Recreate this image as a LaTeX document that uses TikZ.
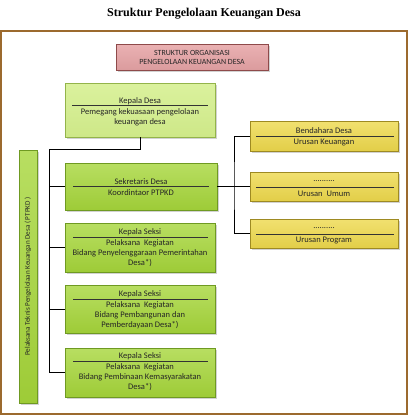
\documentclass[tikz,border=0pt]{standalone}
\usepackage{fontspec}
\setmainfont{Carlito}
\newfontfamily\titlefont{Liberation Serif}
\usetikzlibrary{shadows}
\definecolor{frameC}{HTML}{9C6A2E}
\definecolor{greenF}{HTML}{A6D63A}
\definecolor{greenD}{HTML}{6F9A22}
\definecolor{lgreenF}{HTML}{D4EF8C}
\definecolor{lgreenD}{HTML}{93B44A}
\definecolor{yelF}{HTML}{EED94C}
\definecolor{yelD}{HTML}{9E8A22}
\definecolor{pinkF}{HTML}{E6A3A5}
\definecolor{pinkD}{HTML}{8E4A4A}
\tikzset{
  box/.style={draw, line width=0.8pt, inner sep=0pt, drop shadow={shadow xshift=1.5pt, shadow yshift=-1.5pt, opacity=0.35}},
  gbox/.style={box, draw=greenD, top color=greenF!80!white, bottom color=greenF!95!black},
  lgbox/.style={box, draw=lgreenD, top color=lgreenF!85!white, bottom color=lgreenF!97!black},
  ybox/.style={box, draw=yelD, top color=yelF!80!white, bottom color=yelF!95!black},
  pbox/.style={box, draw=pinkD, top color=pinkF!85!white, bottom color=pinkF!95!black},
  txt/.style={font=\fontsize{8.5}{10}\selectfont, align=center, inner sep=0pt, text=black!85},
  sepline/.style={draw=black!80, line width=0.6pt},
  conn/.style={draw=black, line width=0.8pt},
}
\begin{document}
\begin{tikzpicture}[x=1pt,y=-1pt]
\useasboundingbox (0,0) rectangle (411,420);
% title
\node[font=\titlefont\bfseries\fontsize{12}{14}\selectfont] (title) at (204,14) {Struktur Pengelolaan Keuangan Desa};
% frame
\node[draw=frameC, line width=1.2pt, fill=white, minimum width=406pt, minimum height=383pt, inner sep=0pt] (frame) at (204,222.5) {};
% pink header box
\node[pbox, minimum width=152pt, minimum height=26pt] (hdr) at (192,57.5) {};
\node[txt, font=\fontsize{7.9}{9}\selectfont] (hdrt) at (hdr.center) {STRUKTUR ORGANISASI\\PENGELOLAAN KEUANGAN DESA};
% Kepala Desa
\node[lgbox, minimum width=150pt, minimum height=54pt] (kd) at (140,110) {};
\node[txt] (kdh) at (140,101) {Kepala Desa};
\draw[sepline] (72,105.5) coordinate (kdl1) -- (208,105.5) coordinate (kdl2);
\node[txt] (kdb) at (140,117) {Pemegang kekuasaan pengelolaan\\keuangan desa};
% Sekretaris
\node[gbox, minimum width=152pt, minimum height=47pt] (sek) at (141,186.5) {};
\node[txt] (sekh) at (141,181.5) {Sekretaris Desa};
\draw[sepline] (73,186.5) coordinate (sl1) -- (209,186.5) coordinate (sl2);
\node[txt] (sekb) at (141,193) {Koordintaor PTPKD};
% Kepala Seksi 1
\node[gbox, minimum width=150pt, minimum height=49pt] (ks1) at (140,247.5) {};
\node[txt] (ks1h) at (140,232.5) {Kepala Seksi};
\draw[sepline] (73,237) coordinate (k1l1) -- (208,237) coordinate (k1l2);
\node[txt] (ks1b) at (140,253) {Pelaksana\ \ Kegiatan\\Bidang Penyelenggaraan Pemerintahan\\Desa*)};
% Kepala Seksi 2
\node[gbox, minimum width=150pt, minimum height=48pt] (ks2) at (140,309) {};
\node[txt] (ks2h) at (140,294.5) {Kepala Seksi};
\draw[sepline] (73,299) coordinate (k2l1) -- (208,299) coordinate (k2l2);
\node[txt] (ks2b) at (140,315.5) {Pelaksana\ \ Kegiatan\\Bidang Pembangunan dan\\Pemberdayaan Desa*)};
% Kepala Seksi 3
\node[gbox, minimum width=150pt, minimum height=49pt] (ks3) at (140,372.5) {};
\node[txt] (ks3h) at (140,356.5) {Kepala Seksi};
\draw[sepline] (73,361) coordinate (k3l1) -- (208,361) coordinate (k3l2);
\node[txt] (ks3b) at (140,377.5) {Pelaksana\ \ Kegiatan\\Bidang Pembinaan Kemasyarakatan\\Desa*)};
% left vertical box
\node[gbox, minimum width=18pt, minimum height=253pt] (ptpkd) at (28,276.5) {};
\node[txt, rotate=90, font=\fontsize{7.1}{8}\selectfont] (ptpkdt) at (ptpkd.center) {Pelaksana Teknis Pengelolaan Keuangan Desa ( PTPKD )};
% yellow boxes
\node[ybox, minimum width=148pt, minimum height=30pt] (y1) at (324,136) {};
\node[txt] (y1h) at (324,130.5) {Bendahara Desa};
\draw[sepline] (256,136) coordinate (y1l1) -- (394,136) coordinate (y1l2);
\node[txt] (y1b) at (324,143) {Urusan Keuangan};
\node[ybox, minimum width=148pt, minimum height=29pt] (y2) at (324,186.5) {};
\node[txt] (y2h) at (324,181.5) {..........};
\draw[sepline] (256,187.5) coordinate (y2l1) -- (394,187.5) coordinate (y2l2);
\node[txt] (y2b) at (324,193.5) {Urusan\ \ Umum};
\node[ybox, minimum width=148pt, minimum height=29pt] (y3) at (324,233.5) {};
\node[txt] (y3h) at (324,228.5) {..........};
\draw[sepline] (256,234.5) coordinate (y3l1) -- (394,234.5) coordinate (y3l2);
\node[txt] (y3b) at (324,241) {Urusan Program};
% connectors left
\coordinate (bt) at (49,149);
\draw[conn] (kd.south) |- (bt) |- (ks3.west);
\draw[conn] (sek.west) -- (sek.west -| bt);
\draw[conn] (ks1.west) -- (ks1.west -| bt);
\draw[conn] (ks2.west) -- (ks2.west -| bt);
% connectors right
\coordinate (rb) at (234,186.5);
\draw[conn] (sek.east) -- (y2.west);
\draw[conn] (y1.west) -| (rb) |- (y3.west);
\end{tikzpicture}
\end{document}
